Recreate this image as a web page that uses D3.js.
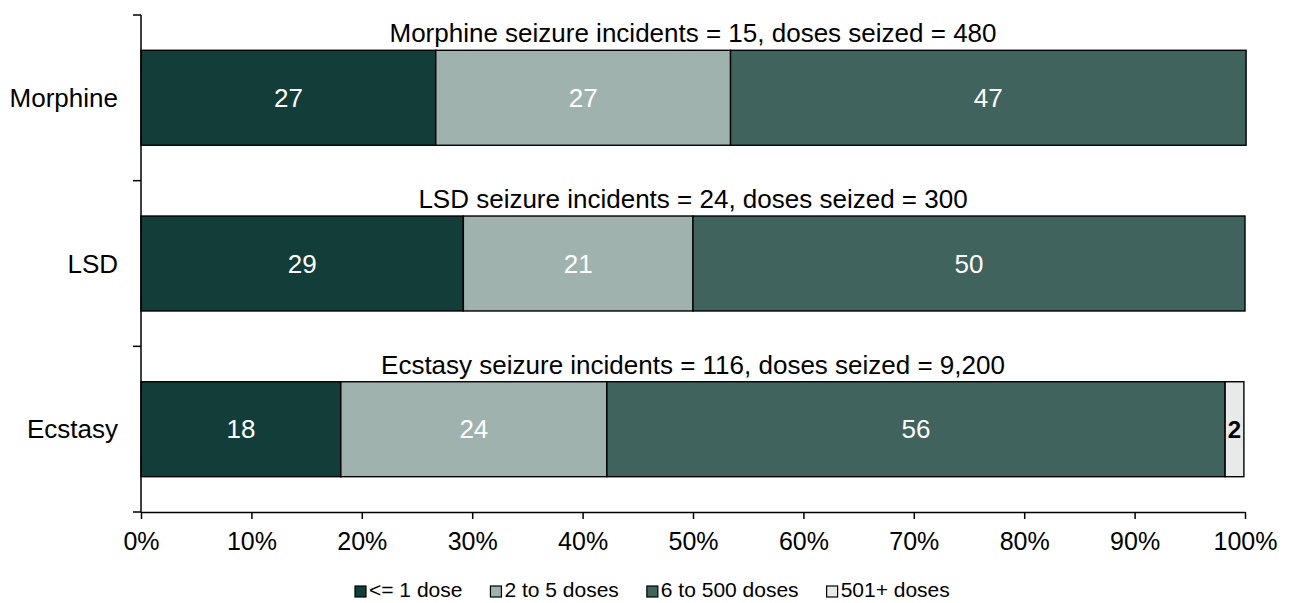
<!DOCTYPE html>
<html>
<head>
<meta charset="utf-8">
<script src="https://cdn.jsdelivr.net/npm/d3@7"></script>
<style>
  body { margin: 0; background: #fff; overflow: hidden; }
  text { font-family: "Liberation Sans", Arial, sans-serif; }
</style>
</head>
<body>
<div id="chart"></div>
<script>
// Data
const drugs = ['Morphine', 'LSD', 'Ecstasy'];
const titles = [
    'Morphine seizure incidents = 15, doses seized = 480',
    'LSD seizure incidents = 24, doses seized = 300',
    'Ecstasy seizure incidents = 116, doses seized = 9,200'
];
const seriesNames = ['<= 1 dose', '2 to 5 doses', '6 to 500 doses', '501+ doses'];
const le1 = [26.7, 29.2, 18.1];
const d2to5 = [26.7, 20.8, 24.1];
const d6to500 = [46.7, 50.0, 56.0];
const d501 = [0, 0, 1.7];
const xTicks = [0, 10, 20, 30, 40, 50, 60, 70, 80, 90, 100];

const colors = ['#133d38', '#a0b2ae', '#40635e', '#e8eaea'];
const labelColors = ['#fff', '#fff', '#fff', '#000'];

const width = 1289, height = 603;
const margin = { top: 15, right: 44, bottom: 91, left: 141 };

const svg = d3.select('#chart').append('svg')
    .attr('width', width)
    .attr('height', height);

const x = d3.scaleLinear()
    .domain([0, 100])
    .range([margin.left, width - margin.right]);

const y = d3.scaleBand()
    .domain(drugs)
    .range([margin.top, height - margin.bottom])
    .paddingInner(0.427)
    .paddingOuter(0.213);

const yOuter = d3.scaleBand()
    .domain(drugs)
    .range([margin.top, height - margin.bottom]);

// build stacked data
const rows = drugs.map((d, i) => ({
    drug: d, s0: le1[i], s1: d2to5[i], s2: d6to500[i], s3: d501[i]
}));
const stack = d3.stack().keys(['s0', 's1', 's2', 's3']);
const series = stack(rows);

const g = svg.append('g');

series.forEach((s, si) => {
    g.selectAll('.seg' + si)
        .data(s.filter(d => d[1] - d[0] > 0))
        .enter()
        .append('rect')
        .attr('x', d => x(d[0]))
        .attr('y', d => y(d.data.drug))
        .attr('width', d => x(d[1]) - x(d[0]))
        .attr('height', y.bandwidth())
        .attr('fill', colors[si])
        .attr('stroke', '#000')
        .attr('stroke-width', 1.4);

    g.selectAll('.lab' + si)
        .data(s.filter(d => d[1] - d[0] > 0))
        .enter()
        .append('text')
        .attr('x', d => (x(d[0]) + x(d[1])) / 2)
        .attr('y', d => y(d.data.drug) + y.bandwidth() / 2)
        .attr('dy', '0.35em')
        .attr('text-anchor', 'middle')
        .attr('font-size', si === 3 ? 24 : 26)
        .attr('font-weight', si === 3 ? 'bold' : 'normal')
        .attr('fill', labelColors[si])
        .text(d => Math.round(d[1] - d[0]));
});

// titles above each bar
svg.selectAll('.bar-title')
    .data(drugs)
    .enter()
    .append('text')
    .attr('x', (x(0) + x(100)) / 2)
    .attr('y', d => y(d) - 8)
    .attr('text-anchor', 'middle')
    .attr('font-size', 26)
    .attr('fill', '#000')
    .text((d, i) => titles[i]);

// x axis
const xAxis = svg.append('g')
    .attr('transform', `translate(0, ${height - margin.bottom})`)
    .call(d3.axisBottom(x).tickValues(xTicks).tickFormat(d => d + '%').tickSize(7).tickSizeOuter(0));
xAxis.select('.domain').attr('stroke', '#000').attr('stroke-width', 1.5);
xAxis.selectAll('.tick line').attr('stroke', '#000').attr('stroke-width', 1.5);
xAxis.selectAll('.tick text')
    .attr('font-size', 25)
    .attr('font-family', '"Liberation Sans", Arial, sans-serif')
    .attr('fill', '#000')
    .attr('y', 38)
    .attr('dy', 0);

// y axis (line and category boundary ticks)
const yAxisG = svg.append('g');
yAxisG.append('line')
    .attr('x1', margin.left).attr('x2', margin.left)
    .attr('y1', margin.top).attr('y2', height - margin.bottom)
    .attr('stroke', '#000').attr('stroke-width', 1.5);
const boundaries = drugs.map(d => yOuter(d)).concat([height - margin.bottom]);
yAxisG.selectAll('.ytick')
    .data(boundaries)
    .enter()
    .append('line')
    .attr('x1', margin.left - 8).attr('x2', margin.left)
    .attr('y1', d => d).attr('y2', d => d)
    .attr('stroke', '#000').attr('stroke-width', 1.5);
yAxisG.selectAll('.ylab')
    .data(drugs)
    .enter()
    .append('text')
    .attr('x', margin.left - 23)
    .attr('y', d => y(d) + y.bandwidth() / 2)
    .attr('dy', '0.35em')
    .attr('text-anchor', 'end')
    .attr('font-size', 26)
    .attr('fill', '#000')
    .text(d => d);

// legend
const legend = svg.append('g');
let lx = 355;
seriesNames.forEach((name, i) => {
    legend.append('rect')
        .attr('x', lx)
        .attr('y', 586)
        .attr('width', 11)
        .attr('height', 11)
        .attr('fill', colors[i])
        .attr('stroke', '#000')
        .attr('stroke-width', 1.2);
    const t = legend.append('text')
        .attr('x', lx + 14)
        .attr('y', 597)
        .attr('font-size', 21)
        .attr('fill', '#000')
        .text(name);
    lx += 14 + t.node().getComputedTextLength() + 28;
});
</script>
</body>
</html>
